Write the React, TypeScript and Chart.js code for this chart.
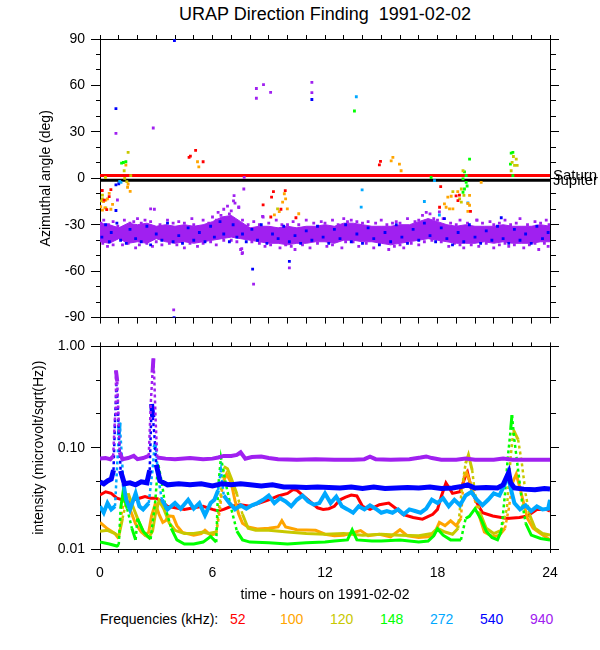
import React, { useEffect, useRef } from "react";
import { Chart, registerables } from "chart.js";
Chart.register(...registerables);

const FONT_FAMILY = '"Liberation Sans", Arial, Helvetica, sans-serif';

// ---------- labels / categories ----------
const TITLE = "URAP Direction Finding  1991-02-02";
const X_TITLE = "time - hours on 1991-02-02";
const AZ_TITLE = "Azimuthal angle (deg)";
const INT_TITLE = "intensity (microvolt/sqrt(Hz))";
const FREQ_CAPTION = "Frequencies (kHz):";
const FREQ_LABELS = ["52", "100", "120", "148", "272", "540", "940"];
const FREQ_COLORS = ["#ff0000", "#ffa500", "#c8c800", "#00ff00", "#00a8ff", "#0000ff", "#a020f0"];

// ---------- tick values ----------
const X_TICK_LABELS = [0, 6, 12, 18, 24];
const AZ_TICK_LABELS = [-90, -60, -30, 0, 30, 60, 90];
const INT_TICKS = [0.01, 0.0215443, 0.0464159, 0.1, 0.215443, 0.464159, 1];
const INT_TICK_LABELS = [0.01, 0.1, 1];

// ---------- planet directions (deg) ----------
const SATURN_AZ = 1.8;
const JUPITER_AZ = -1.2;

// ---------- 940 kHz azimuth band envelope ----------
const BAND_HOURS = [0, 0.5, 1, 1.5, 2, 2.5, 3, 3.5, 4, 4.5, 5, 5.5, 6, 6.5, 7, 7.5, 8, 8.5, 9, 9.5, 10, 10.5, 11, 11.5, 12, 12.5, 13, 13.5, 14, 14.5, 15, 15.5, 16, 16.5, 17, 17.5, 18, 18.5, 19, 19.5, 20, 20.5, 21, 21.5, 22, 22.5, 23, 23.5, 24];
const BAND_940_UPPER = [-29, -30, -32, -29, -30, -29, -31, -30, -31, -30, -31, -30, -28, -25, -24, -28, -32, -31, -31, -32, -31, -32, -31, -31, -30, -31, -29, -29, -30, -31, -31, -31, -30, -30, -28, -26, -28, -30, -31, -30, -31, -31, -31, -30, -31, -31, -31, -30, -31];
const BAND_940_LOWER = [-41, -42, -39, -42, -41, -42, -39, -41, -42, -41, -42, -41, -40, -39, -38, -39, -40, -41, -42, -42, -43, -42, -42, -41, -41, -42, -40, -40, -41, -41, -42, -43, -42, -41, -40, -39, -40, -41, -42, -42, -42, -41, -42, -41, -42, -42, -42, -41, -41];

// ---------- azimuth points [hour, deg] ----------
const AZ_940 = [
  [0.2, -27], [0.7, -28], [1.3, -27], [2.0, -26], [2.4, -27], [3.6, -27], [4.2, -28], [4.9, -26], [5.5, -27], [6.0, -25], [6.3, -22], [6.6, -20], [6.8, -18], [7.0, -21], [7.2, -16], [7.4, -19], [8.2, -28], [8.7, -25], [9.4, -27], [10.3, -28], [11.0, -27], [11.8, -28], [12.4, -27], [13.0, -26], [13.4, -27], [14.3, -28], [15.0, -27], [15.8, -28], [16.4, -26], [17.2, -24], [17.4, -22], [17.6, -23], [18.3, -26], [19.2, -27], [20.1, -27], [20.8, -28], [21.6, -27], [22.4, -26], [23.2, -28], [23.8, -27],
  [0.05, -29], [0.45, -30], [0.95, -31], [1.6, -29], [1.8, -28], [2.2, -29], [2.7, -28], [3.2, -30], [3.9, -29], [4.5, -29], [5.0, -30], [5.8, -29], [6.2, -27], [6.45, -24], [6.9, -23], [7.6, -27], [7.9, -30], [8.5, -30], [9.0, -29], [9.7, -30], [10.0, -30], [10.6, -30], [11.4, -29], [12.0, -29], [12.7, -30], [13.2, -28], [13.7, -28], [14.0, -29], [14.7, -29], [15.3, -30], [15.6, -29], [16.0, -29], [16.8, -28], [17.0, -27], [17.8, -26], [18.0, -27], [18.7, -29], [19.0, -30], [19.6, -29], [20.4, -29], [21.0, -30], [21.3, -29], [21.9, -30], [22.2, -29], [22.8, -30], [23.5, -29], [23.95, -30],
  [0.4, -44], [1.2, -43], [1.9, -45], [2.8, -44], [3.3, -43], [4.5, -45], [5.2, -44], [6.2, -43], [7.5, -46], [7.6, -48], [8.8, -44], [9.6, -45], [10.4, -46], [11.2, -45], [12.1, -44], [12.9, -45], [13.8, -44], [14.6, -45], [15.4, -46], [16.2, -45], [17.0, -43], [18.6, -44], [19.4, -45], [20.2, -44], [21.0, -45], [21.8, -44], [22.6, -45], [23.4, -46], [23.9, -44],
  [0.15, -42], [0.7, -43], [1.5, -42], [2.1, -43], [2.5, -42], [3.0, -41], [3.7, -42], [4.1, -43], [4.8, -42], [5.5, -42], [5.9, -41], [6.6, -40], [7.0, -40], [7.3, -41], [8.1, -41], [8.5, -42], [9.1, -43], [9.9, -43], [10.2, -44], [10.8, -43], [11.6, -42], [12.4, -43], [13.1, -41], [13.5, -41], [14.2, -42], [14.9, -42], [15.7, -44], [16.0, -43], [16.6, -42], [17.3, -41], [17.7, -40], [18.2, -41], [18.9, -42], [19.2, -43], [19.8, -43], [20.6, -42], [21.3, -43], [21.6, -42], [22.1, -43], [22.9, -43], [23.2, -42], [23.7, -42],
  [0.85, 29], [2.84, 32.5], [3.93, -85], [7.69, 0.6], [7.67, -6.9], [7.15, -11.2], [7.12, -14.6], [7.4, -18.5], [8.34, 58], [8.34, 51.7], [8.72, 60.5], [9.1, 55.5], [8.19, -68.4], [10.1, -57.9], [11.3, 62], [11.3, 55.3], [18.1, -21.7], [20.1, -27], [2.7, -19.7], [2.9, -20], [0.93, -14], [8.67, -24.6], [7.56, -45.4], [7.58, -48.6],
];
const AZ_540 = [
  [0.85, 45], [3.97, 89], [3.95, -90], [8.14, -58.7], [10.1, -53.7], [11.3, 50.9], [0.85, -20.8], [21.4, -25.5], [18.37, -26], [0.85, -4.2], [1.0, -3.5],
  [0.1, -38], [0.3, -30], [0.5, -41], [0.6, -35], [0.9, -29], [1.1, -40], [1.4, -42], [1.6, -33], [1.9, -39], [2.2, -41], [2.5, -31], [2.7, -43], [3.0, -36], [3.3, -40], [3.6, -29], [3.9, -41], [4.2, -37], [4.4, -42], [4.7, -32], [5.0, -40], [5.3, -35], [5.6, -41], [5.9, -31], [6.1, -38], [6.4, -28], [6.6, -36], [6.9, -41], [7.1, -30], [7.3, -38], [7.6, -36], [7.8, -41], [8.1, -33], [8.4, -40], [8.6, -30], [8.9, -42], [9.2, -36], [9.5, -39], [9.8, -31], [10.1, -41], [10.4, -37], [10.7, -42], [11.0, -34], [11.3, -40], [11.6, -31], [11.9, -38], [12.2, -42], [12.5, -33], [12.8, -39], [13.1, -30], [13.4, -41], [13.7, -36], [14.0, -42], [14.3, -32], [14.6, -39], [14.9, -43], [15.2, -35], [15.5, -41], [15.8, -30], [16.1, -38], [16.4, -42], [16.7, -33], [17.0, -40], [17.3, -29], [17.6, -37], [17.9, -41], [18.2, -32], [18.5, -39], [18.8, -43], [19.1, -35], [19.4, -41], [19.7, -30], [20.0, -38], [20.3, -42], [20.6, -34], [20.9, -40], [21.2, -31], [21.5, -39], [21.8, -42], [22.1, -33], [22.4, -40], [22.7, -36], [23.0, -42], [23.3, -31], [23.6, -39], [23.9, -35],
];
const AZ_272 = [[1.12, -2.6], [1.05, -2.0], [13.67, 52.7], [13.98, -7.5], [13.93, -18.6], [17.3, -15], [17.84, -1.5], [18.1, -23.7], [19.62, -15.9]];
const AZ_148 = [[1.15, 9.8], [1.25, 10.2], [1.38, 10.7], [13.57, 43.5], [17.66, 0.5], [19.71, 12.4], [19.44, 4.2], [19.53, 1.7], [19.36, -0.4], [19.53, -2.6], [19.58, -5], [19.44, -6.9], [19.36, -9], [21.93, 16.3], [22.02, 16.7], [21.89, 9.2], [22.02, 1.7]];
const AZ_120 = [[0.13, -10.9], [0.13, -13.3], [0.31, -19.1], [0.29, 0.5], [0.08, -14.6], [1.5, 16.7], [1.29, 4.9], [1.64, 1.7], [1.32, 0], [1.43, -2.2], [19.36, 4.9], [18.82, -8.6], [19.27, -15.4], [19.18, -13.3], [19.41, -11], [19.27, -6.9], [22.05, 14.1], [22.2, 12.4], [22.11, 8.4], [22.25, 8.4], [21.93, 4.9], [21.98, 10.3], [9.47, -19.8]];
const AZ_100 = [[0.49, -9.7], [0.4, -13.3], [0.31, -14.1], [0.19, -15], [0.04, -18.4], [0.58, -20], [0.67, -16.8], [0.13, -20.6], [0.26, -19.1], [1.38, 8.5], [1.47, -5.8], [1.61, -8.4], [1.5, -3.7], [5.2, 10.7], [5.27, 7.4], [9.83, -10], [9.74, -15.4], [9.56, -21.5], [9.3, -23.6], [10.6, -22.9], [9.9, -13.3], [9.99, -19.8], [15.62, 13.5], [15.53, 11.3], [15.97, 9.2], [16.06, 4.9], [18.73, -11.6], [18.55, -12.2], [18.37, -16.5], [18.46, -18.7], [18.64, -19.8], [18.82, -19.8], [19.62, -21.4], [19.71, -17.4], [19.62, -16.3], [19.08, -8.6], [19.71, -11], [20.33, -2.6]];
const AZ_52 = [[0.12, -7.9], [0.58, -7.3], [0.22, -14.1], [0.36, -20.2], [0.49, -11.8], [4.75, 13.5], [4.82, 14.3], [5.1, 18], [5.5, 10.7], [9.25, -8.6], [9.15, -12.2], [9.88, -8], [8.7, -17.2], [9.11, -25], [9.65, -20], [10.45, -25.5], [14.9, 8.7], [14.96, 10.9], [18.17, -5.4], [18.11, -18.7], [19.09, -14.4], [19.17, -10.9], [19.76, -21.4], [18.99, -11.4]];

// ---------- intensity series [hour, microvolt/sqrt(Hz)] ----------
const INT_940 = [[0, 0.078], [0.3, 0.079], [0.55, 0.077], [0.7, 0.082], [0.8, 0.2], [0.85, 0.58], [0.92, 0.45], [0.97, 0.25], [1.05, 0.09], [1.2, 0.077], [1.5, 0.079], [1.8, 0.083], [2.0, 0.077], [2.3, 0.079], [2.6, 0.083], [2.72, 0.3], [2.8, 0.55], [2.85, 0.76], [2.9, 0.45], [2.97, 0.18], [3.05, 0.08], [3.5, 0.078], [4.0, 0.077], [4.8, 0.079], [5.5, 0.077], [6.0, 0.078], [6.3, 0.08], [6.6, 0.083], [7.0, 0.083], [7.3, 0.085], [7.5, 0.09], [7.75, 0.078], [8.1, 0.081], [8.6, 0.082], [9.0, 0.079], [9.5, 0.077], [10.5, 0.076], [11.5, 0.077], [12.5, 0.076], [13.5, 0.076], [14.1, 0.077], [14.4, 0.0815], [14.7, 0.077], [15.5, 0.076], [16.5, 0.077], [17.1, 0.08], [17.4, 0.082], [17.7, 0.079], [18.2, 0.076], [19.0, 0.076], [19.5, 0.078], [20.0, 0.076], [21.0, 0.076], [21.5, 0.078], [22.0, 0.076], [23.0, 0.076], [24, 0.076]];
const INT_540 = [[0, 0.046], [0.2, 0.044], [0.4, 0.047], [0.6, 0.049], [0.72, 0.06], [0.8, 0.18], [0.88, 0.42], [0.95, 0.25], [1.02, 0.12], [1.1, 0.059], [1.3, 0.044], [1.6, 0.045], [1.9, 0.043], [2.2, 0.046], [2.5, 0.045], [2.65, 0.06], [2.75, 0.27], [2.82, 0.2], [2.92, 0.12], [3.0, 0.068], [3.2, 0.047], [3.6, 0.043], [4.2, 0.044], [4.8, 0.043], [5.4, 0.044], [6.0, 0.042], [6.5, 0.044], [7.0, 0.043], [7.5, 0.044], [8.0, 0.043], [8.6, 0.042], [9.2, 0.043], [9.8, 0.041], [10.4, 0.041], [11.0, 0.0405], [11.6, 0.041], [12.2, 0.0405], [12.8, 0.04], [13.4, 0.041], [14.0, 0.0395], [14.6, 0.041], [15.2, 0.0395], [15.8, 0.04], [16.4, 0.0405], [17.0, 0.04], [17.6, 0.041], [18.2, 0.0395], [18.8, 0.04], [19.3, 0.0415], [19.6, 0.043], [20.0, 0.04], [20.6, 0.0405], [21.2, 0.04], [21.5, 0.043], [21.7, 0.052], [21.8, 0.057], [21.9, 0.045], [22.1, 0.04], [22.6, 0.039], [23.2, 0.0385], [23.7, 0.0395], [24, 0.039]];
const INT_272 = [[0, 0.0264], [0.2, 0.0228], [0.4, 0.0284], [0.6, 0.0246], [0.8, 0.0264], [0.9, 0.059], [1.0, 0.132], [1.05, 0.177], [1.15, 0.091], [1.25, 0.044], [1.4, 0.0306], [1.6, 0.0246], [1.9, 0.0354], [2.1, 0.0264], [2.3, 0.0246], [2.6, 0.0284], [2.8, 0.06], [2.9, 0.1], [2.97, 0.11], [3.1, 0.051], [3.3, 0.0306], [3.6, 0.0246], [4.0, 0.0284], [4.3, 0.025], [4.7, 0.0306], [5.0, 0.025], [5.3, 0.0284], [5.6, 0.0215], [5.9, 0.0284], [6.1, 0.0306], [6.3, 0.038], [6.45, 0.06], [6.6, 0.0337], [6.9, 0.0284], [7.2, 0.0246], [7.5, 0.027], [7.8, 0.025], [8.1, 0.027], [8.4, 0.0284], [8.7, 0.0306], [9.0, 0.0337], [9.3, 0.0284], [9.6, 0.0317], [9.9, 0.0295], [10.2, 0.0264], [10.5, 0.0306], [10.8, 0.0337], [11.1, 0.0295], [11.4, 0.0274], [11.7, 0.0284], [12.0, 0.0354], [12.3, 0.0284], [12.6, 0.0329], [12.9, 0.0264], [13.2, 0.0246], [13.5, 0.0228], [13.8, 0.0264], [14.1, 0.0246], [14.4, 0.027], [14.7, 0.025], [15.0, 0.0228], [15.3, 0.0237], [15.6, 0.0228], [15.9, 0.0246], [16.2, 0.022], [16.5, 0.0246], [16.8, 0.0237], [17.1, 0.0228], [17.4, 0.025], [17.7, 0.0306], [18.0, 0.0284], [18.3, 0.0317], [18.6, 0.0264], [18.9, 0.0306], [19.2, 0.027], [19.5, 0.0337], [19.8, 0.0365], [20.1, 0.0306], [20.4, 0.027], [20.7, 0.0306], [21.0, 0.0354], [21.3, 0.0337], [21.6, 0.0441], [21.75, 0.0548], [21.9, 0.04], [22.1, 0.0284], [22.4, 0.0246], [22.7, 0.027], [23.0, 0.0237], [23.3, 0.0264], [23.6, 0.0246], [23.9, 0.025], [24, 0.0306]];
const INT_148 = [[0, 0.0117], [0.5, 0.0112], [0.9, 0.0107], [1.0, 0.011], [1.1, 0.025], [1.22, 0.0354], [1.45, 0.025], [1.7, 0.016], [1.9, 0.0123], [2.0, 0.02], [2.3, 0.015], [2.7, 0.0125], [2.95, 0.03], [3.1, 0.07], [3.3, 0.045], [3.5, 0.025], [3.8, 0.016], [4.1, 0.0123], [4.5, 0.0112], [5.0, 0.0112], [5.5, 0.0117], [5.9, 0.0133], [6.2, 0.0117], [6.3, 0.04], [6.45, 0.08], [6.7, 0.045], [7.0, 0.025], [7.3, 0.015], [7.6, 0.0123], [8.0, 0.0117], [9.0, 0.0115], [10.0, 0.0112], [11.0, 0.0115], [12.0, 0.0117], [12.5, 0.012], [13.2, 0.0123], [13.45, 0.0155], [13.7, 0.0123], [14.5, 0.012], [15.0, 0.012], [16.0, 0.0123], [17.0, 0.0117], [17.5, 0.012], [17.8, 0.0135], [18.0, 0.0158], [18.3, 0.0137], [18.7, 0.0123], [19.25, 0.0123], [19.5, 0.02], [19.7, 0.021], [20.0, 0.025], [20.3, 0.02], [20.6, 0.015], [20.9, 0.013], [21.2, 0.0123], [21.4, 0.015], [21.6, 0.035], [21.75, 0.08], [21.9, 0.15], [21.97, 0.21], [22.1, 0.12], [22.3, 0.06], [22.5, 0.03], [22.7, 0.018], [23.0, 0.0137], [23.5, 0.0127], [24, 0.0123]];
const INT_120 = [[0, 0.015], [0.4, 0.0153], [0.8, 0.0142], [1.0, 0.0133], [1.2, 0.02], [1.5, 0.0354], [1.8, 0.025], [2.1, 0.018], [2.4, 0.0137], [2.6, 0.013], [2.8, 0.015], [2.95, 0.022], [3.15, 0.03], [3.4, 0.025], [3.7, 0.018], [4.0, 0.0153], [4.5, 0.0142], [5.0, 0.0142], [5.5, 0.0147], [5.8, 0.0142], [6.2, 0.0147], [6.4, 0.03], [6.6, 0.065], [6.8, 0.062], [7.0, 0.05], [7.3, 0.035], [7.6, 0.022], [7.9, 0.016], [8.3, 0.0153], [9.0, 0.0153], [10.0, 0.0147], [11.0, 0.0142], [12.0, 0.014], [13.0, 0.0142], [14.0, 0.0137], [15.0, 0.014], [16.0, 0.0137], [17.0, 0.0135], [17.7, 0.0142], [18.0, 0.016], [18.4, 0.0147], [18.8, 0.014], [19.1, 0.016], [19.3, 0.04], [19.5, 0.07], [19.65, 0.085], [19.85, 0.06], [20.0, 0.035], [20.3, 0.022], [20.6, 0.016], [21.0, 0.0142], [21.4, 0.0153], [21.7, 0.025], [21.9, 0.08], [22.05, 0.15], [22.3, 0.12], [22.5, 0.07], [22.7, 0.035], [22.9, 0.022], [23.2, 0.016], [23.6, 0.0142], [24, 0.0137]];
const INT_100 = [[0, 0.0183], [0.4, 0.0158], [0.8, 0.0142], [1.0, 0.0127], [1.15, 0.022], [1.35, 0.0354], [1.6, 0.0246], [1.9, 0.0177], [2.2, 0.0147], [2.4, 0.0137], [2.6, 0.0147], [2.75, 0.0212], [2.95, 0.028], [3.15, 0.022], [3.35, 0.0183], [3.5, 0.019], [3.65, 0.0212], [3.9, 0.021], [4.1, 0.017], [4.4, 0.0146], [5.0, 0.0137], [5.4, 0.0142], [5.6, 0.0153], [5.9, 0.0137], [6.2, 0.0142], [6.4, 0.025], [6.55, 0.045], [6.75, 0.055], [7.0, 0.045], [7.2, 0.03], [7.4, 0.022], [7.6, 0.018], [7.9, 0.0165], [8.4, 0.0158], [9.0, 0.016], [9.5, 0.0165], [9.7, 0.019], [9.9, 0.0165], [10.5, 0.0155], [11.5, 0.0153], [12.0, 0.014], [12.5, 0.0135], [13.0, 0.0137], [13.9, 0.0152], [14.3, 0.0135], [14.9, 0.014], [15.5, 0.0132], [16.0, 0.0155], [16.4, 0.0135], [17.0, 0.013], [17.5, 0.0132], [17.8, 0.0137], [18.1, 0.0183], [18.4, 0.017], [18.7, 0.019], [19.0, 0.017], [19.25, 0.02], [19.4, 0.051], [19.55, 0.057], [19.75, 0.045], [19.9, 0.035], [20.2, 0.022], [20.5, 0.0147], [20.8, 0.0137], [21.0, 0.0132], [21.3, 0.0137], [21.6, 0.016], [21.8, 0.025], [22.0, 0.045], [22.2, 0.055], [22.4, 0.04], [22.6, 0.028], [22.8, 0.02], [23.1, 0.016], [23.5, 0.0142], [24, 0.0123]];
const INT_52 = [[0, 0.0341], [0.3, 0.0367], [0.6, 0.0354], [0.9, 0.0317], [1.2, 0.0306], [1.5, 0.0284], [1.8, 0.0306], [2.1, 0.0317], [2.4, 0.033], [2.7, 0.0317], [3.0, 0.0317], [3.3, 0.0295], [3.6, 0.0264], [4.0, 0.0255], [4.5, 0.0246], [5.0, 0.0255], [5.5, 0.0264], [6.0, 0.0246], [6.3, 0.0237], [6.6, 0.0246], [7.0, 0.0264], [7.5, 0.0274], [8.0, 0.0264], [8.5, 0.0284], [9.0, 0.0306], [9.5, 0.0334], [10.0, 0.0354], [10.3, 0.0386], [10.5, 0.038], [10.8, 0.0341], [11.2, 0.0295], [11.6, 0.0255], [11.9, 0.0246], [12.2, 0.025], [12.5, 0.0264], [12.8, 0.0306], [13.1, 0.0325], [13.4, 0.0341], [13.7, 0.0334], [14.0, 0.0264], [14.4, 0.0246], [14.9, 0.0274], [15.4, 0.0284], [15.8, 0.025], [16.15, 0.022], [16.7, 0.0205], [17.2, 0.0197], [17.75, 0.022], [18.0, 0.0246], [18.2, 0.033], [18.45, 0.0449], [18.8, 0.0354], [19.2, 0.0367], [19.45, 0.05], [19.6, 0.057], [19.8, 0.04], [20.06, 0.0295], [20.4, 0.0228], [20.95, 0.0212], [21.7, 0.02], [22.37, 0.0205], [22.8, 0.0212], [23.3, 0.0246], [23.8, 0.0246], [24, 0.0237]];

// ---------- layout constants (styles, not data) ----------
const LEGEND_X = [230, 280, 330, 380, 430, 480, 530];

const toXY = (arr: number[][]) => arr.map(([x, y]) => ({ x, y }));
const near = (a: number, b: number) => Math.abs(a - b) < 1e-6;

export default function App() {
  const topRef = useRef<HTMLCanvasElement>(null);
  const botRef = useRef<HTMLCanvasElement>(null);

  useEffect(() => {
    const font = { family: FONT_FAMILY, size: 14 };
    const black = "#000000";
    const isAzMajor = (ctx: any) => !!ctx.tick && AZ_TICK_LABELS.some((v) => near(v, ctx.tick.value));
    const isIntMajor = (ctx: any) => !!ctx.tick && INT_TICK_LABELS.some((v) => near(v, ctx.tick.value));

    const hourAxis = (position: string, height: number, tickLength: number) => ({
      type: "linear",
      position,
      min: 0,
      max: 24,
      afterFit: (s: any) => { s.height = height; },
      ticks: { stepSize: 1, autoSkip: false, maxRotation: 0, minRotation: 0, display: false },
      grid: { drawOnChartArea: false, drawTicks: true, tickLength, tickColor: black, tickWidth: 1 },
      border: { display: true, color: black, width: 1 },
    });

    const pointDs = (label: string, arr: number[][], color: string, order: number) => ({
      label,
      data: toXY(arr),
      showLine: false,
      pointStyle: "rect",
      pointRadius: 2,
      pointHoverRadius: 2,
      pointBackgroundColor: color,
      pointBorderWidth: 0,
      backgroundColor: color,
      borderColor: color,
      order,
    });

    const purple = FREQ_COLORS[6];
    const topChart = new Chart(topRef.current as HTMLCanvasElement, {
      type: "scatter",
      data: {
        datasets: [
          { label: "Saturn", data: [{ x: 0, y: SATURN_AZ }, { x: 24, y: SATURN_AZ }], showLine: true, borderColor: "#ff0000", borderWidth: 3, pointRadius: 0, order: 20 },
          { label: "Jupiter", data: [{ x: 0, y: JUPITER_AZ }, { x: 24, y: JUPITER_AZ }], showLine: true, borderColor: "#000000", borderWidth: 3, pointRadius: 0, order: 20 },
          { label: "940 band", data: BAND_HOURS.map((h, i) => ({ x: h, y: BAND_940_UPPER[i] })), showLine: true, borderColor: purple, backgroundColor: purple, borderWidth: 1, pointRadius: 0, fill: "+1", order: 30 },
          { label: "940 band low", data: BAND_HOURS.map((h, i) => ({ x: h, y: BAND_940_LOWER[i] })), showLine: true, borderColor: purple, backgroundColor: purple, borderWidth: 1, pointRadius: 0, fill: false, order: 30 },
          pointDs("940", AZ_940, FREQ_COLORS[6], 8),
          pointDs("540", AZ_540, FREQ_COLORS[5], 7),
          pointDs("272", AZ_272, FREQ_COLORS[4], 6),
          pointDs("148", AZ_148, FREQ_COLORS[3], 5),
          pointDs("120", AZ_120, FREQ_COLORS[2], 4),
          pointDs("100", AZ_100, FREQ_COLORS[1], 3),
          pointDs("52", AZ_52, FREQ_COLORS[0], 2),
        ] as any,
      },
      options: {
        responsive: false,
        animation: false,
        devicePixelRatio: 1,
        events: [],
        layout: { padding: 0 },
        plugins: { legend: { display: false }, tooltip: { enabled: false }, title: { display: false } },
        scales: {
          x: hourAxis("bottom", 13, 6),
          x2: hourAxis("top", 39, 4),
          y: {
            type: "linear",
            position: "left",
            min: -90,
            max: 90,
            afterFit: (s: any) => { s.width = 100; },
            ticks: {
              stepSize: 10,
              autoSkip: false,
              font,
              color: black,
              padding: 6,
              callback: (v: any) => (AZ_TICK_LABELS.some((t) => near(t, Number(v))) ? String(v) : ""),
            },
            grid: { drawOnChartArea: false, tickLength: 9, tickColor: black, tickWidth: 1, tickBorderDash: (ctx: any) => (isAzMajor(ctx) ? [] : [0, 5, 4, 40]) },
            border: { display: true, color: black, width: 1 },
            title: { display: true, text: AZ_TITLE, font, color: black, padding: { top: 38, bottom: 0 } },
          },
          y2: {
            type: "linear",
            position: "right",
            min: -90,
            max: 90,
            afterFit: (s: any) => { s.width = 50; },
            ticks: { stepSize: 10, autoSkip: false, display: false },
            grid: { drawOnChartArea: false, tickLength: 9, tickColor: black, tickWidth: 1, tickBorderDash: (ctx: any) => (isAzMajor(ctx) ? [] : [5, 40]) },
            border: { display: true, color: black, width: 1 },
          },
        } as any,
      },
    });

    // steep (spike) segments are drawn dotted and thinner, like the sampled spikes in the original
    const steep = (ctx: any) => Math.abs(ctx.p1.y - ctx.p0.y) > 18;
    const lineDs = (label: string, arr: number[][], color: string, width: number, order: number) => ({
      label,
      data: toXY(arr),
      showLine: true,
      borderColor: color,
      backgroundColor: color,
      borderWidth: width,
      pointRadius: 0,
      tension: 0,
      order,
      segment: {
        borderDash: (ctx: any) => (steep(ctx) ? [3, 3] : undefined),
        borderWidth: (ctx: any) => (steep(ctx) ? 2.5 : undefined),
      },
    });

    const logTicks = (s: any) => { s.ticks = INT_TICKS.map((v) => ({ value: v })); };

    const botChart = new Chart(botRef.current as HTMLCanvasElement, {
      type: "scatter",
      data: {
        datasets: [
          lineDs("940", INT_940, FREQ_COLORS[6], 4, 1),
          lineDs("540", INT_540, FREQ_COLORS[5], 5, 2),
          lineDs("272", INT_272, FREQ_COLORS[4], 4, 3),
          lineDs("148", INT_148, FREQ_COLORS[3], 3, 4),
          lineDs("120", INT_120, FREQ_COLORS[2], 3, 5),
          lineDs("100", INT_100, FREQ_COLORS[1], 3, 6),
          lineDs("52", INT_52, FREQ_COLORS[0], 3, 7),
        ] as any,
      },
      options: {
        responsive: false,
        animation: false,
        devicePixelRatio: 1,
        events: [],
        layout: { padding: 0 },
        plugins: { legend: { display: false }, tooltip: { enabled: false }, title: { display: false } },
        scales: {
          x: {
            type: "linear",
            position: "bottom",
            min: 0,
            max: 24,
            afterFit: (s: any) => { s.height = 61; },
            ticks: {
              stepSize: 1,
              autoSkip: false,
              maxRotation: 0,
              minRotation: 0,
              font,
              color: black,
              padding: 12,
              callback: (v: any) => (X_TICK_LABELS.includes(Number(v)) ? String(v) : ""),
            },
            grid: { drawOnChartArea: false, tickLength: 4, tickColor: black, tickWidth: 1 },
            border: { display: true, color: black, width: 1 },
            title: { display: true, text: X_TITLE, font, color: black, padding: { top: 0, bottom: 6.6 } },
          },
          x2: hourAxis("top", 7, 4),
          y: {
            type: "logarithmic",
            position: "left",
            min: 0.01,
            max: 1,
            afterFit: (s: any) => { s.width = 100; },
            afterBuildTicks: logTicks,
            ticks: {
              autoSkip: false,
              font,
              color: black,
              padding: 6,
              callback: (v: any) => (INT_TICK_LABELS.some((t) => near(t, Number(v))) ? Number(v).toFixed(2) : ""),
            },
            grid: { drawOnChartArea: false, tickLength: 9, tickColor: black, tickWidth: 1, tickBorderDash: (ctx: any) => (isIntMajor(ctx) ? [] : [0, 5, 4, 40]) },
            border: { display: true, color: black, width: 1 },
            title: { display: true, text: INT_TITLE, font, color: black, padding: { top: 31, bottom: 0 } },
          },
          y2: {
            type: "logarithmic",
            position: "right",
            min: 0.01,
            max: 1,
            afterFit: (s: any) => { s.width = 50; },
            afterBuildTicks: logTicks,
            ticks: { autoSkip: false, display: false },
            grid: { drawOnChartArea: false, tickLength: 9, tickColor: black, tickWidth: 1, tickBorderDash: (ctx: any) => (isIntMajor(ctx) ? [] : [5, 40]) },
            border: { display: true, color: black, width: 1 },
          },
        } as any,
      },
    });

    return () => {
      topChart.destroy();
      botChart.destroy();
    };
  }, []);

  const textBase: React.CSSProperties = { position: "absolute", fontFamily: FONT_FAMILY, color: "#000", whiteSpace: "pre" };

  return (
    <div style={{ position: "relative", width: 600, height: 650, overflow: "hidden", background: "#fff" }}>
      <style>{`html,body{margin:0;padding:0;background:#ffffff;}`}</style>
      <div style={{ ...textBase, left: 100, width: 450, top: 5, textAlign: "center", fontSize: 18, lineHeight: "18px" }}>{TITLE}</div>
      <canvas ref={topRef} width={600} height={332} style={{ position: "absolute", left: 0, top: 0 }} />
      <canvas ref={botRef} width={600} height={278} style={{ position: "absolute", left: 0, top: 332 }} />
      <div style={{ ...textBase, left: 553, top: 167, fontSize: 15, lineHeight: "15px" }}>Saturn</div>
      <div style={{ ...textBase, left: 553, top: 172, fontSize: 15, lineHeight: "15px" }}>Jupiter</div>
      <div style={{ ...textBase, left: 100, top: 612, fontSize: 14, lineHeight: "14px" }}>{FREQ_CAPTION}</div>
      {FREQ_LABELS.map((lab, i) => (
        <div key={lab} style={{ ...textBase, left: LEGEND_X[i], top: 612, fontSize: 14, lineHeight: "14px", color: FREQ_COLORS[i] }}>{lab}</div>
      ))}
    </div>
  );
}
